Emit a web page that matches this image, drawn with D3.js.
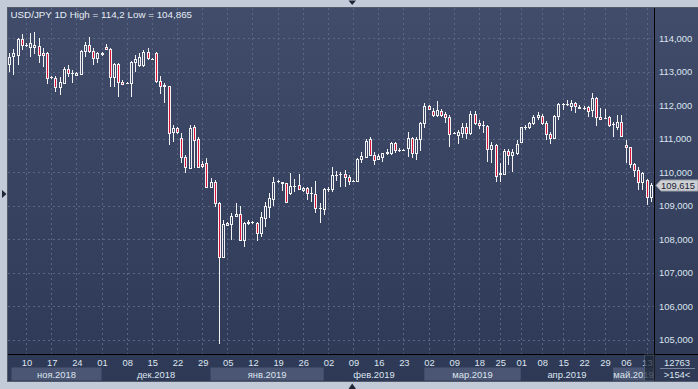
<!DOCTYPE html>
<html><head><meta charset="utf-8">
<script src="https://cdn.jsdelivr.net/npm/d3@7"></script>
<style>
body{margin:0;background:#c2cbd7;}
svg{display:block;font-family:"Liberation Sans",Arial,sans-serif;}
</style>
</head><body>
<svg id="c" width="698" height="389"></svg>
<script>
// ---- data (USD/JPY daily) ----
const open = [113.23,113.47,113.50,113.99,113.80,113.75,113.74,113.77,113.56,113.56,
112.84,112.81,112.55,112.67,113.08,112.96,112.90,112.93,113.62,113.80,
113.62,113.41,113.53,113.74,113.68,112.84,113.23,112.70,112.67,112.67,
113.29,113.20,113.20,113.59,113.38,113.56,112.73,112.61,112.58,111.20,
111.32,111.02,110.46,110.13,111.35,110.99,110.25,110.28,109.56,109.71,
109.08,107.47,108.43,108.46,108.70,108.75,107.98,108.49,108.52,108.49,
108.19,108.64,108.96,109.20,109.74,109.71,109.68,109.38,109.59,109.62,
109.47,109.53,109.38,109.35,108.93,108.90,109.50,109.50,109.92,109.95,
109.95,109.86,109.74,109.74,110.40,110.46,110.99,110.52,110.40,110.46,
110.58,110.58,110.87,110.67,110.67,110.73,111.02,110.58,110.99,111.47,
111.98,111.83,111.71,111.83,111.74,111.65,111.17,111.11,111.17,111.35,
111.17,111.74,111.47,111.41,111.38,110.70,110.81,109.95,109.95,110.64,
110.52,110.58,110.90,111.35,111.35,111.47,111.65,111.68,111.47,111.14,
111.02,111.68,112.04,112.04,111.98,112.07,111.92,111.92,111.95,111.86,
112.22,111.65,111.62,111.65,111.44,111.35,111.50,110.81,110.75,110.25,
110.07,109.71,109.77,109.26];
const high = [113.56,113.68,114.01,114.13,113.86,114.16,114.20,114.01,113.71,113.59,
112.87,112.87,112.84,113.14,113.20,113.05,112.99,113.65,113.89,114.04,
113.71,113.59,113.59,113.83,113.71,113.25,113.26,112.76,112.70,113.31,
113.50,113.56,113.65,113.71,113.41,113.58,112.87,112.67,112.59,111.41,
111.35,111.17,110.52,111.41,111.41,111.05,110.34,110.43,109.83,109.77,
109.11,108.58,108.52,108.78,109.08,108.99,108.52,108.58,108.55,108.52,
108.81,109.11,109.38,109.86,109.77,109.72,109.69,109.98,109.80,109.95,
109.56,109.56,109.56,109.74,109.08,109.53,109.56,110.16,110.04,110.01,
110.07,109.92,109.77,110.43,110.61,110.99,111.05,110.61,110.55,110.59,
110.70,110.90,110.90,110.73,110.70,111.20,111.05,111.05,111.50,112.07,
112.01,111.92,112.13,111.89,111.80,111.71,111.20,111.26,111.47,111.47,
111.83,111.83,111.56,111.53,111.40,110.90,110.84,110.28,110.70,110.70,
110.70,110.96,111.36,111.41,111.50,111.71,111.80,111.74,111.53,111.20,
111.70,112.07,112.07,112.16,112.16,112.10,112.01,111.98,111.98,112.37,
112.25,111.92,111.89,111.68,111.50,111.71,111.71,110.96,110.77,110.28,
110.16,110.01,109.80,109.68];
const low = [112.99,112.90,113.20,113.65,113.74,113.45,113.53,113.26,113.14,112.64,
112.79,112.40,112.31,112.66,112.84,112.67,112.87,112.90,113.44,113.56,
113.20,113.26,113.47,113.65,112.55,112.55,112.25,112.61,112.64,112.25,
112.99,113.14,113.14,113.35,113.35,112.67,112.34,112.07,110.81,110.90,
111.14,110.28,109.98,110.12,110.13,110.13,110.13,109.55,109.55,108.96,
104.865,107.44,108.40,107.98,108.68,107.95,107.77,108.43,108.46,107.95,
108.07,108.37,108.64,108.99,109.68,109.44,109.10,109.32,109.41,109.47,
109.41,109.17,109.11,108.78,108.49,108.72,109.41,109.41,109.74,109.56,
109.56,109.62,109.71,109.71,110.28,110.43,110.49,110.22,110.37,110.31,
110.52,110.52,110.58,110.61,110.64,110.46,110.43,110.37,110.64,111.32,
111.86,111.65,111.65,111.65,111.47,110.75,111.14,110.84,111.02,110.99,
111.11,111.41,111.29,111.17,110.31,110.28,109.71,109.71,109.92,110.22,
110.01,110.52,110.87,111.26,111.29,111.41,111.56,111.41,110.96,110.84,
110.99,111.56,111.86,111.98,111.83,111.77,111.89,111.86,111.65,111.65,
111.38,111.56,111.58,111.35,111.05,111.26,111.05,110.28,110.13,109.86,
109.47,109.47,109.02,109.11];
const close = [113.44,113.56,113.99,113.80,113.79,113.87,113.80,113.50,113.50,112.81,
112.83,112.55,112.70,113.08,112.96,112.95,112.95,113.62,113.80,113.62,
113.41,113.56,113.55,113.68,112.84,113.23,112.70,112.64,112.66,113.29,
113.38,113.44,113.59,113.41,113.37,112.73,112.58,112.58,111.18,111.32,
111.20,110.46,110.16,111.32,110.96,110.16,110.19,109.56,109.71,109.08,
107.47,108.46,108.49,108.70,108.75,107.98,108.49,108.52,108.51,108.19,
108.67,108.99,109.23,109.71,109.73,109.68,109.11,109.59,109.58,109.50,
109.53,109.38,109.37,108.93,108.92,109.50,109.49,109.92,109.91,109.94,
109.86,109.74,109.73,110.40,110.49,110.93,110.52,110.37,110.49,110.58,
110.61,110.87,110.67,110.66,110.66,111.02,110.58,110.99,111.47,111.98,
111.89,111.71,111.86,111.71,111.65,111.14,111.16,111.20,111.35,111.17,
111.74,111.47,111.41,111.40,110.70,110.81,109.89,109.98,110.64,110.52,
110.61,110.84,111.35,111.34,111.47,111.65,111.71,111.47,111.14,111.02,
111.68,112.04,112.03,112.03,112.07,111.98,111.95,111.91,111.83,112.22,
111.65,111.59,111.61,111.41,111.43,111.50,111.08,110.75,110.25,110.07,
109.71,109.98,109.26,109.615];

const priceTicks = [105,106,107,108,109,110,111,112,113,114];
const dayLabels   = ["10","17","24","01","08","15","22","29","05","12","19","26","02","09","16","23","02","09","18","25","01","08","15","22","29","06","13"];
const dayLabelIdx = [4,10,16,22,28,34,40,46,52,58,64,70,76,82,88,94,100,106,112,117,122,127,132,137,142,147,152];
const monthLabels   = ["ноя.2018","дек.2018","янв.2019","фев.2019","мар.2019","апр.2019","май.2019"];
const monthStartIdx = [0,22,48,75,99,122,144];
const title = "USD/JPY 1D High = 114,2 Low = 104,865";
const lastPrice = 109.615;
const infoTexts = ["12763", ">154<"];

// ---- layout ----
const svg = d3.select("#c");
const PL = 8, PT = 8, AX = 654, PB = 354, FB = 381, W = 698;
const FONT = 9.4;

const x = d3.scaleBand().domain(d3.range(open.length)).range([7.2, 652.8]);
const xc = i => x(i) + x.bandwidth() / 2;
const y = d3.scaleLinear().domain([105, 114]).range([339.8, 38.3]);
const fmt = v => d3.format(".3f")(v).replace(".", ",");

const defs = svg.append("defs");
const g1 = defs.append("linearGradient").attr("id","bg").attr("gradientUnits","userSpaceOnUse")
  .attr("x1",0).attr("y1",PT).attr("x2",0).attr("y2",FB);
g1.append("stop").attr("offset",0).attr("stop-color","#404c6a");
g1.append("stop").attr("offset",1).attr("stop-color","#2d3955");
defs.append("clipPath").attr("id","plotclip").append("rect")
  .attr("x",PL).attr("y",PT).attr("width",AX-PL).attr("height",PB-PT);

// outer frame
svg.append("rect").attr("width",W).attr("height",389).attr("fill","#c2cbd7");
// panel
svg.append("rect").attr("x",PL).attr("y",PT).attr("width",W-PL).attr("height",FB-PT).attr("fill","url(#bg)");
svg.append("rect").attr("x",PL-0.5).attr("y",PT-0.5).attr("width",W-PL+1).attr("height",FB-PT+1)
  .attr("fill","none").attr("stroke","#525c6c");

// gridlines
const grid = svg.append("g").attr("stroke","#5b6782").attr("stroke-dasharray","2,3").attr("stroke-width",1);
grid.selectAll("line.h").data(priceTicks).join("line").attr("class","h")
  .attr("x1",PL).attr("x2",AX).attr("y1",d=>Math.round(y(d))+0.5).attr("y2",d=>Math.round(y(d))+0.5);
grid.selectAll("line.v").data(dayLabelIdx).join("line").attr("class","v")
  .attr("y1",PT).attr("y2",PB).attr("x1",d=>Math.round(xc(d))+0.5).attr("x2",d=>Math.round(xc(d))+0.5);

// candles
const candles = svg.append("g").attr("clip-path","url(#plotclip)");
const data = d3.range(open.length).map(i => ({i, o:open[i], h:high[i], l:low[i], c:close[i]}));
data.forEach(d => {
  const cx = Math.round(xc(d.i));
  const px = cx + 0.5;
  const yo = y(d.o), yc = y(d.c), yh = Math.round(y(d.h)), yl = Math.round(y(d.l));
  const top = Math.round(Math.min(yo, yc)), bot = Math.round(Math.max(yo, yc));
  const bear = d.c < d.o;
  if (bot - top < 1) {
    candles.append("line").attr("x1",px).attr("x2",px).attr("y1",Math.min(yh,top)).attr("y2",Math.max(yl,top+1))
      .attr("stroke","#f2f2f2");
    candles.append("line").attr("x1",cx-1).attr("x2",cx+2).attr("y1",top+0.5).attr("y2",top+0.5)
      .attr("stroke","#f2f2f2");
  } else {
    if (yh < top) candles.append("line").attr("x1",px).attr("x2",px).attr("y1",yh).attr("y2",top).attr("stroke","#f2f2f2");
    if (yl > bot + 1) candles.append("line").attr("x1",px).attr("x2",px).attr("y1",bot+1).attr("y2",yl).attr("stroke","#f2f2f2");
    candles.append("rect").attr("x",cx-0.5).attr("y",top+0.5).attr("width",2).attr("height",bot-top)
      .attr("fill", bear ? "#dc143c" : "none").attr("stroke","#f2f2f2").attr("stroke-width",1);
  }
});

// axis lines
svg.append("line").attr("x1",AX+0.5).attr("x2",AX+0.5).attr("y1",PT).attr("y2",FB).attr("stroke","#000");
svg.append("line").attr("x1",PL).attr("x2",W).attr("y1",PB+0.5).attr("y2",PB+0.5).attr("stroke","#000");

// right axis
const ya = svg.append("g").attr("transform",`translate(${AX},0)`)
  .call(d3.axisRight(y).tickValues(priceTicks).tickSize(0).tickPadding(5).tickFormat(fmt));
ya.select(".domain").remove();
ya.selectAll("text").attr("fill","#dde5f0").attr("font-size",FONT).attr("font-family","Liberation Sans, Arial, sans-serif");

// month bands
const mb = svg.append("g");
monthLabels.forEach((m,k) => {
  const s = k === 0 ? 11.5 : xc(monthStartIdx[k]);
  const e = k < monthLabels.length-1 ? xc(monthStartIdx[k+1]) : AX;
  if (k % 2 === 0) mb.append("rect").attr("x",s).attr("y",367.5).attr("width",e-s).attr("height",13).attr("fill","#4a5673");
  mb.append("text").attr("x",(s+e)/2).attr("y",377.5).attr("text-anchor","middle")
    .attr("fill","#dde5f0").attr("font-size",FONT).text(m);
});

// day labels
const xa = svg.append("g").attr("transform",`translate(0,${PB})`)
  .call(d3.axisBottom(d3.scaleLinear().domain([0,open.length-1]).range([xc(0)+0.5, xc(open.length-1)+0.5]))
    .tickValues(dayLabelIdx).tickFormat((d,i)=>dayLabels[i]).tickSize(0).tickPadding(5.5));
xa.select(".domain").remove();
xa.selectAll("text").attr("fill","#dde5f0").attr("font-size",FONT).attr("font-family","Liberation Sans, Arial, sans-serif");

// current-week highlight box
svg.append("rect").attr("x",644.5).attr("y",355).attr("width",9.5).attr("height",26)
  .attr("fill","rgba(28,38,56,0.72)").attr("stroke","rgba(110,120,140,0.5)");

// bottom right info
svg.append("text").attr("x",677).attr("y",366).attr("text-anchor","middle").attr("fill","#dde5f0").attr("font-size",FONT).text(infoTexts[0]);
svg.append("line").attr("x1",660).attr("x2",695).attr("y1",368.5).attr("y2",368.5).attr("stroke","#7a879e");
svg.append("text").attr("x",677).attr("y",378).attr("text-anchor","middle").attr("fill","#dde5f0").attr("font-size",FONT).text(infoTexts[1]);

// last price marker
const yp = Math.round(y(lastPrice)) + 0.5;
svg.append("path").attr("d",`M${AX+2},${yp} L${AX+7},${yp-5.5} L${W},${yp-5.5} L${W},${yp+5.5} L${AX+7},${yp+5.5} Z`)
  .attr("fill","#cdd0d4").attr("stroke","#9aa0a8");
svg.append("text").attr("x",AX+7).attr("y",yp+3.5).attr("fill","#1a2030").attr("font-size",FONT).text(fmt(lastPrice));

// title
svg.append("text").attr("x",10.5).attr("y",18).attr("fill","#e6ecf4").attr("font-size",9.8).text(title);

// frame arrows
svg.append("path").attr("d","M2,190 L6.5,194 L2,198 Z").attr("fill","#1e2636");
svg.append("path").attr("d","M348.5,0.5 L356,0.5 L352.2,5 Z").attr("fill","#1e2636");
svg.append("path").attr("d","M348.5,389 L356,389 L352.2,383.5 Z").attr("fill","#1e2636");
</script>
</body></html>
